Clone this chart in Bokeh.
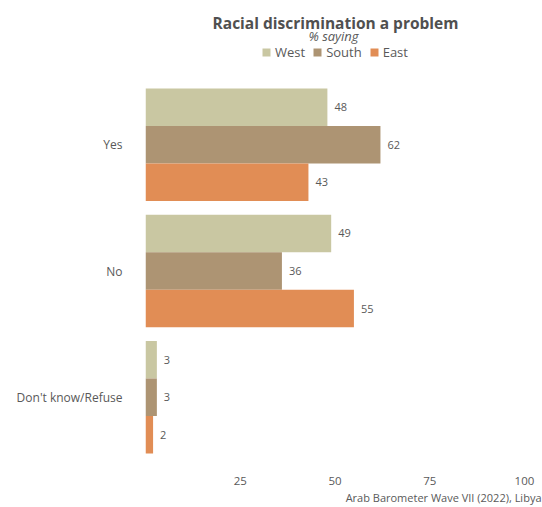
from bokeh.plotting import figure
from bokeh.layouts import column
from bokeh.models import (FactorRange, Range1d, ColumnDataSource, Legend, LegendItem,
                          Title, FixedTicker, Label)
from bokeh.transform import dodge
from bokeh.core.properties import value
from bokeh.embed import file_html
from bokeh.resources import INLINE

# ---- data ----
categories = ["Yes", "No", "Don't know/Refuse"]
regions = ["West", "South", "East"]
west = [48, 49, 3]
south = [62, 36, 3]
east = [43, 55, 2]
x_ticks = [25, 50, 75, 100]

title_text = "Racial discrimination a problem"
subtitle_text = "% saying"
caption_text = "Arab Barometer Wave VII (2022), Libya"

# ---- style ----
FONT = "Open Sans"
colors = ["#C9C7A2", "#AD9473", "#E18D55"]
offsets = [0.297, 0.0, -0.297]
BAR_H = 0.297
TXT = "#595959"
W = 542
HEAD_H = 81
MAIN_H = 507 - HEAD_H
LEFT = 145
RIGHT = 1

sources = [ColumnDataSource(dict(cat=categories, val=vals, label=[str(v) for v in vals]))
           for vals in (west, south, east)]

# ---- header: title, subtitle, legend (frame aligned with main chart) ----
head = figure(width=W, height=HEAD_H, x_range=Range1d(LEFT, W - RIGHT),
              y_range=Range1d(0, HEAD_H), title=None,
              x_axis_location=None, y_axis_location=None,
              output_backend="svg", toolbar_location=None,
              min_border_left=LEFT, min_border_right=RIGHT,
              min_border_top=0, min_border_bottom=0)
head.grid.visible = False
head.outline_line_color = None

head.add_layout(Label(x=335, y=HEAD_H - 22, text=title_text, text_align="center",
                      text_baseline="alphabetic", text_font=FONT, text_font_size="15.5px",
                      text_font_style="bold", text_color="#505050"))
head.add_layout(Label(x=333, y=HEAD_H - 35, text=subtitle_text, text_align="center",
                      text_baseline="alphabetic", text_font=FONT, text_font_size="13px",
                      text_font_style="italic", text_color=TXT))

head_items = []
for name, col, src in zip(regions, colors, sources):
    # off-view renderer only used to draw the legend swatch
    r = head.hbar(y=-1000, left=0, right="val", height=1, fill_color=col,
                  line_color=None, source=src)
    head_items.append(LegendItem(label=name, renderers=[r]))
head_legend = Legend(items=head_items, orientation="horizontal",
                     location=(261 - LEFT, HEAD_H - 61),
                     label_text_font=FONT, label_text_font_size="13px",
                     label_text_color=TXT, glyph_width=10, glyph_height=10,
                     label_height=12, label_standoff=4, spacing=7,
                     padding=0, margin=0, border_line_color=None,
                     background_fill_alpha=0)
head.add_layout(head_legend)

# ---- main chart ----
p = figure(width=W, height=MAIN_H,
           y_range=FactorRange(factors=categories[::-1], range_padding=0),
           x_range=Range1d(0, 104.5),
           output_backend="svg", toolbar_location=None,
           min_border_left=LEFT, min_border_right=RIGHT,
           min_border_top=0, min_border_bottom=MAIN_H - 379)

for name, src, col, off in zip(regions, sources, colors, offsets):
    p.hbar(y=dodge("cat", off, range=p.y_range), left=0, right="val",
           height=BAR_H, fill_color=col, line_color=None, source=src)
    p.text(x="val", y=dodge("cat", off, range=p.y_range), text="label", source=src,
           x_offset=7, text_baseline="middle", text_align="left",
           text_font=value(FONT), text_font_size="11px", text_color=TXT)

p.add_layout(Title(text=caption_text, align="right", text_font=FONT,
                   text_font_size="11px", text_font_style="normal",
                   text_color=TXT, standoff=0), "below")

p.xaxis.ticker = FixedTicker(ticks=x_ticks)
for ax in (p.xaxis, p.yaxis):
    ax.axis_line_color = None
    ax.major_tick_line_color = None
    ax.minor_tick_line_color = None
    ax.major_tick_out = 0
    ax.major_label_text_font = FONT
    ax.major_label_text_color = TXT
p.xaxis.major_label_text_font_size = "11.5px"
p.yaxis.major_label_text_font_size = "12px"
p.xaxis.major_label_standoff = 16
p.yaxis.major_label_standoff = 23

p.xgrid.visible = False
p.ygrid.visible = False
p.outline_line_color = None

layout = column(head, p, spacing=0)
open("out.html", "w").write(file_html(layout, INLINE))
